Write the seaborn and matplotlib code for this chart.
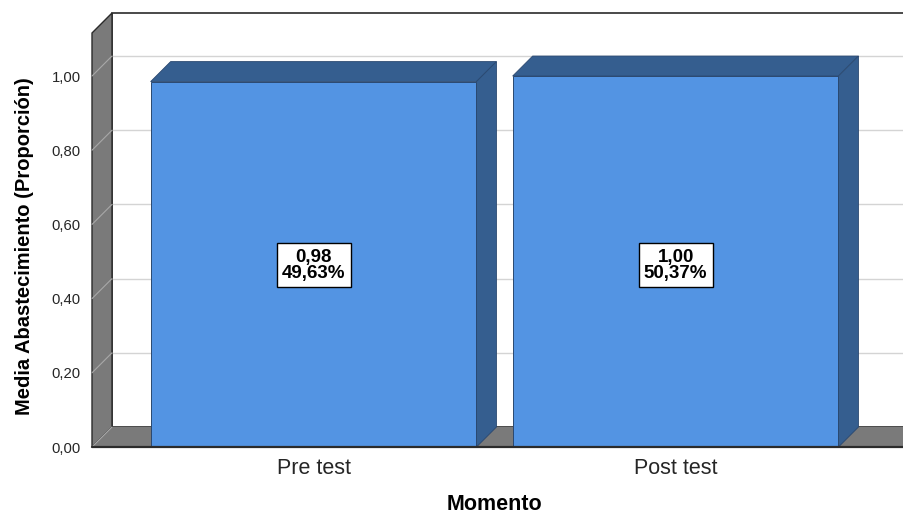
import matplotlib
matplotlib.use("Agg")
import matplotlib.pyplot as plt
import seaborn as sns
import pandas as pd
import numpy as np
from matplotlib.patches import Polygon, Rectangle
from matplotlib.ticker import FuncFormatter

# ---- data ----
categories = ["Pre test", "Post test"]
means = [0.985, 1.00]
mean_labels = ["0,98", "1,00"]
pct_labels = ["49,63%", "50,37%"]
yticks = [0.0, 0.2, 0.4, 0.6, 0.8, 1.0]

df = pd.DataFrame({"Momento": categories, "Media": means})

sns.set_theme(style="white")
plt.rcParams["font.family"] = ["Liberation Sans", "DejaVu Sans"]

W, H, DPI = 904, 511, 100
fig = plt.figure(figsize=(W / DPI, H / DPI), dpi=DPI)
ax = fig.add_axes([92 / W, (H - 447) / H, (W - 92) / W, (447 - 33) / H])
ax.set_xlim(-0.612, 1.631)
ax.set_ylim(0, 1.116)
for s in ax.spines.values():
    s.set_visible(False)
ax.patch.set_visible(False)

# depth offset (20 px right, 20 px up) expressed in data units
p0 = ax.transData.transform((0, 0))
dpt = ax.transData.inverted().transform(p0 + np.array([20, 20]))
DX, DY = dpt[0] - 0, dpt[1] - 0

xl, xr = ax.get_xlim()
ytop = ax.get_ylim()[1]
wall_grey = "#7a7a7a"
edge = "#2b2b2b"

# back wall
ax.add_patch(Rectangle((xl + DX, DY), (xr - xl) + 1, ytop, facecolor="white",
                       edgecolor=edge, lw=1.2, zorder=0, clip_on=False))
# back wall gridlines
for v in yticks[1:]:
    ax.plot([xl + DX, xr + DX + 1], [v + DY, v + DY], color="#d4d4d4", lw=1.0,
            zorder=0.5, clip_on=False)
# left side wall
ax.add_patch(Polygon([(xl, 0), (xl, ytop), (xl + DX, ytop + DY), (xl + DX, DY)],
                     closed=True, facecolor=wall_grey, edgecolor=edge, lw=1.0,
                     zorder=1, clip_on=False))
for v in yticks[1:]:
    ax.plot([xl, xl + DX], [v, v + DY], color="#a8a8a8", lw=0.8, zorder=1.1,
            clip_on=False)
# floor
ax.add_patch(Polygon([(xl, 0), (xr + 1, 0), (xr + 1 + DX, DY), (xl + DX, DY)],
                     closed=True, facecolor=wall_grey, edgecolor="none",
                     zorder=1, clip_on=False))
ax.plot([xl, xr + 1], [0, 0], color=edge, lw=1.6, zorder=6, clip_on=False)
ax.plot([xl, xl + DX], [0, DY], color="#a8a8a8", lw=0.8, zorder=1.1, clip_on=False)

# bars (front faces)
front = "#5394e3"
dark = "#355e8f"
sns.barplot(data=df, x="Momento", y="Media", order=categories, color=front,
            saturation=1, width=0.9, edgecolor="#2a4870", linewidth=0.7,
            ax=ax, zorder=3)
ax.set_xlim(xl, xr)
ax.set_ylim(0, ytop)

for bar in ax.patches:
    if not isinstance(bar, Rectangle) or bar.get_zorder() != 3:
        continue
    x0 = bar.get_x()
    x1 = x0 + bar.get_width()
    h = bar.get_height()
    ax.add_patch(Polygon([(x0, h), (x1, h), (x1 + DX, h + DY), (x0 + DX, h + DY)],
                         closed=True, facecolor=dark, edgecolor="#2a4870",
                         lw=0.6, zorder=2.5, clip_on=False))
    ax.add_patch(Polygon([(x1, 0), (x1, h), (x1 + DX, h + DY), (x1 + DX, DY)],
                         closed=True, facecolor=dark, edgecolor="#2a4870",
                         lw=0.6, zorder=2.5, clip_on=False))

# value labels
for i, (m, p) in enumerate(zip(mean_labels, pct_labels)):
    ax.text(i, 0.49, f"{m}\n{p}", ha="center", va="center", fontsize=13.5,
            fontweight="bold", color="black", linespacing=0.92, zorder=7,
            bbox=dict(boxstyle="square,pad=0.28", facecolor="white",
                      edgecolor="black", lw=1.0))

# axes ticks & labels
ax.set_yticks(yticks)
ax.yaxis.set_major_formatter(FuncFormatter(lambda v, _: f"{v:.2f}".replace(".", ",")))
ax.tick_params(axis="y", length=0, pad=8, labelsize=10.7, labelcolor="#262626")
ax.tick_params(axis="x", length=0, pad=8, labelsize=15.5, labelcolor="#262626")
ax.set_ylabel("Media Abastecimiento (Proporción)", fontsize=14.5,
              fontweight="bold", color="black")
ax.yaxis.set_label_coords(-0.0714, 0.4855)
ax.set_xlabel("Momento", fontsize=15.5, fontweight="bold", color="black", va="top")
ax.xaxis.set_label_coords(0.496, -0.1135)
ax.grid(False)

fig.savefig("out.png", dpi=DPI)
